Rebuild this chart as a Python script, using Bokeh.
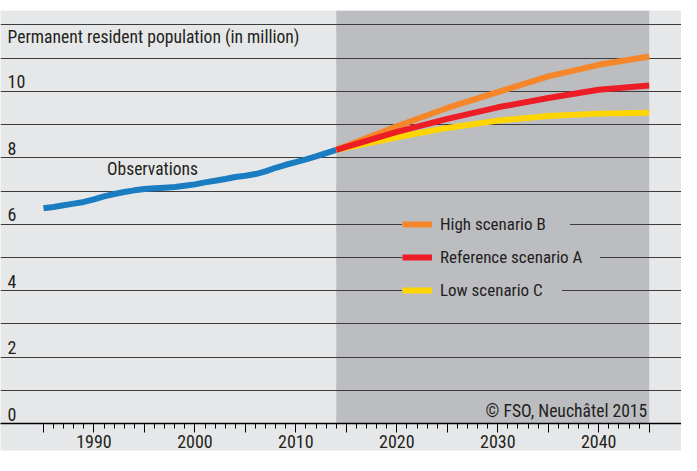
from bokeh.plotting import figure
from bokeh.models import Range1d, FixedTicker, Label, LabelSet, Legend, LegendItem, ColumnDataSource
from bokeh.core.properties import value
from bokeh.embed import file_html
from bokeh.resources import INLINE

# ---------------- data ----------------
obs_years = list(range(1985, 2015))
obs_pop = [6.48, 6.52, 6.57, 6.62, 6.67, 6.75, 6.84, 6.91, 6.97, 7.02,
           7.06, 7.08, 7.10, 7.12, 7.16, 7.20, 7.26, 7.31, 7.36, 7.42,
           7.46, 7.51, 7.59, 7.70, 7.79, 7.87, 7.95, 8.04, 8.14, 8.24]

proj_years = [2014, 2020, 2025, 2030, 2035, 2040, 2045]
high_b = [8.24, 8.95, 9.50, 9.98, 10.45, 10.80, 11.05]
ref_a = [8.24, 8.78, 9.17, 9.52, 9.80, 10.05, 10.18]
low_c = [8.24, 8.62, 8.90, 9.12, 9.26, 9.33, 9.36]

series_names = ["High scenario B", "Reference scenario A", "Low scenario C"]

y_label_ticks = [0, 2, 4, 6, 8, 10]
y_grid_ticks = list(range(0, 13))
x_label_years = [1990, 2000, 2010, 2020, 2030, 2040]
x_major_ticks = list(range(1985, 2046, 5))
x_minor_ticks = list(range(1985, 2046))

title_text = "Permanent resident population (in million)"
obs_text = "Observations"
credit_text = "\u00a9 FSO, Neuch\u00e2tel 2015"

# ---------------- style ----------------
LIGHT = "#e6e7e8"
SHADE = "#bcbdc0"
BLUE = "#1a7cc1"
ORANGE = "#f5862a"
RED = "#ec1d25"
YELLOW = "#ffd500"
FONT = "Roboto Condensed"
TXT = "#231f20"

X0, X1 = 1980.74, 2048.20
Y0, Y1 = 0, 12.435

p = figure(width=681, height=455, output_backend="svg", toolbar_location=None,
           x_range=Range1d(X0, X1), y_range=Range1d(Y0, Y1),
           y_axis_location=None,
           min_border_left=0, min_border_right=0, min_border_top=10, min_border_bottom=32,
           background_fill_color=LIGHT, border_fill_color=LIGHT, outline_line_color=None)

# projection shading
p.quad(left=[proj_years[0]], right=[proj_years[-1]], bottom=[Y0], top=[Y1],
       fill_color=SHADE, line_color=None, level="image")

# grid
p.xgrid.visible = False
p.ygrid.ticker = FixedTicker(ticks=y_grid_ticks)
p.ygrid.grid_line_color = "#3c3c3c"
p.ygrid.grid_line_width = 1

# x axis
xa = p.xaxis[0]
xa.ticker = FixedTicker(ticks=x_major_ticks, minor_ticks=x_minor_ticks)
xa.major_label_overrides = {t: (str(t) if t in x_label_years else "") for t in x_major_ticks}
xa.major_label_text_font = FONT
xa.major_label_text_font_size = "18px"
xa.major_label_text_color = TXT
xa.major_label_standoff = 2
xa.major_tick_in = 0
xa.major_tick_out = 9
xa.minor_tick_in = 0
xa.minor_tick_out = 5
xa.axis_line_color = "black"
xa.axis_line_width = 1.3
xa.major_tick_line_color = "black"
xa.minor_tick_line_color = "black"
try:
    xa.background_fill_color = LIGHT
    p.border_fill_color = "white"
except Exception:
    pass

# lines
r_obs = p.line(obs_years, obs_pop, line_color=BLUE, line_width=6)
r_b = p.line(proj_years, high_b, line_color=ORANGE, line_width=6)
r_c = p.line(proj_years, low_c, line_color=YELLOW, line_width=6)
r_a = p.line(proj_years, ref_a, line_color=RED, line_width=6)

# legends (one per row, each with its own backing box)
rows = [(r_b, series_names[0], 189, 130), (r_a, series_names[1], 156, 160), (r_c, series_names[2], 123, 122)]
for r, name, ly, lw in rows:
    lg = Legend(items=[LegendItem(label=name, renderers=[r])], location=(402, ly),
                glyph_width=30, glyph_height=20, label_height=20, label_width=lw,
                label_standoff=8, padding=5, margin=0, spacing=0,
                background_fill_color=SHADE, background_fill_alpha=1.0,
                border_line_color=None,
                label_text_font=FONT, label_text_font_size="17px", label_text_color=TXT)
    p.add_layout(lg)

# y tick labels
ysrc = ColumnDataSource(dict(x=[X0] * len(y_label_ticks), y=y_label_ticks,
                             t=[str(v) for v in y_label_ticks]))
p.add_layout(LabelSet(x="x", y="y", text="t", source=ysrc, x_offset=7, y_offset=3,
                      text_align="left", text_baseline="alphabetic",
                      text_font=value(FONT), text_font_size=value("18px"),
                      text_color=TXT))

# title / annotations
p.add_layout(Label(x=X0, y=11, x_offset=7, y_offset=21, text=title_text, text_align="left",
                   text_baseline="alphabetic", text_font=FONT, text_font_size="17.6px",
                   text_color=TXT))
p.add_layout(Label(x=1995.8, y=7.67, text=obs_text, text_align="center",
                   text_baseline="alphabetic", text_font=FONT, text_font_size="17.5px",
                   text_color=TXT))
p.add_layout(Label(x=proj_years[-1], y=0, x_offset=-2, y_offset=13, text=credit_text,
                   text_align="right", text_baseline="alphabetic", text_font=FONT,
                   text_font_size="17.6px", text_color=TXT))

open("out.html", "w").write(file_html(p, INLINE))
